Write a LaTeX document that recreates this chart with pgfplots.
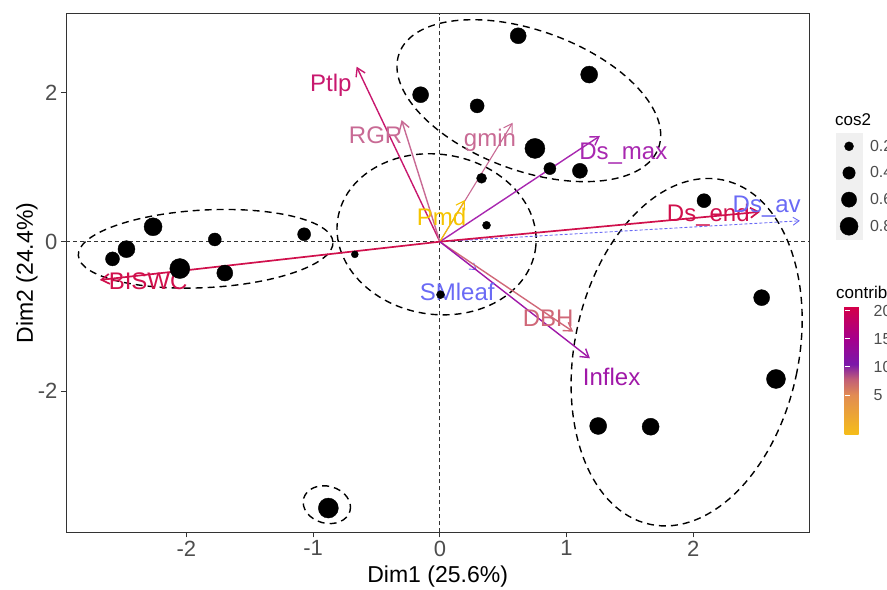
\documentclass[border=0pt]{standalone}
\usepackage{fontspec}
\setmainfont{Liberation Sans}
\usepackage{pgfplots}
\usepackage{pgfplotstable}
\pgfplotsset{compat=1.18}
\usetikzlibrary{arrows.meta}
\definecolor{gray30}{HTML}{4D4D4D}
\definecolor{gray20}{HTML}{333333}
\definecolor{cCrim}{HTML}{D0104C}
\definecolor{cPtlp}{HTML}{C8186E}
\definecolor{cPink}{HTML}{C86A94}
\definecolor{cPurp}{HTML}{A828B0}
\definecolor{cInfl}{HTML}{A018A8}
\definecolor{cGold}{HTML}{F5C400}
\definecolor{cDBH}{HTML}{D06878}
\definecolor{cBlue}{HTML}{6A6AF5}
\pgfplotsset{colormap={contribmap}{rgb255(0)=(246,190,24) rgb255(71)=(226,140,82) rgb255(100)=(192,92,120) rgb255(126)=(122,24,170) rgb255(171)=(165,0,140) rgb255(228)=(212,0,72)}}
\pgfplotstableread{
x y r
-2.263 0.20 9
-2.473 -0.10 8.5
-2.583 -0.23 7
-2.052 -0.36 10
-1.776 0.03 6.5
-1.697 -0.42 8
-1.071 0.10 6.5
-0.671 -0.17 3.5
0.618 2.76 8
1.178 2.24 8.5
-0.152 1.97 8
0.294 1.82 7
0.750 1.25 10
0.868 0.98 6
1.105 0.95 7.5
0.329 0.85 5
0.368 0.22 4
0.005 -0.71 4
2.084 0.55 7
2.539 -0.75 8
2.652 -1.84 9.5
1.249 -2.47 8.5
1.663 -2.48 8.5
-0.88 -3.57 10
}\indpoints
\tikzset{
  varrow/.style={line width=1.4bp, -{Straight Barb[length=8bp,width=10bp]}},
  suparrow/.style={line width=0.9bp, dash pattern=on 3bp off 2bp, -{Straight Barb[length=6bp,width=8bp]}},
  vlab/.style={font=\fontsize{24bp}{26bp}\selectfont, inner sep=0pt},
  ell/.style={black, line width=1.4bp, dash pattern=on 7bp off 5bp},
}
\pgfplotsset{myleg/.style={legend image code/.code={\fill[gray!12] (-12.85bp,-13.125bp) rectangle (12.85bp,13.125bp); \fill[black] (0bp,0bp) circle[radius=#1];}}}
\begin{document}
\begin{tikzpicture}[x=1bp,y=1bp]
\path[use as bounding box] (0,0) rectangle (887,590);
\begin{axis}[
  at={(66bp,57.7bp)}, anchor=south west,
  scale only axis, width=743.3bp, height=518.3bp,
  xmin=-2.95, xmax=2.915, ymin=-3.895, ymax=3.052,
  axis line style={gray20, line width=1bp},
  tick style={gray20, line width=0.8bp},
  tick align=outside, major tick length=5bp,
  xtick={-2,-1,0,1,2}, xticklabels={-2,-1,0,1,2},
  ytick={-2,0,2}, yticklabels={-2,0,2},
  xtick pos=lower, ytick pos=left,
  ticklabel style={font=\fontsize{22bp}{24bp}\selectfont, text=gray30},
  xlabel={Dim1 (25.6\%)}, ylabel={Dim2 (24.4\%)},
  label style={font=\fontsize{23bp}{25bp}\selectfont, text=black},
  xlabel style={at={(axis description cs:0.5,-0.0862)}, anchor=center},
  ylabel style={at={(axis description cs:-0.0525,0.5)}, anchor=center},
  colormap name=contribmap,
  point meta min=-2.1, point meta max=20.7,
  colorbar,
  colorbar style={
    at={(836bp,283.3bp)}, anchor=north west,
    scale only axis, width=25.7bp, height=128.3bp,
    ytick={5,10,15,20}, yticklabels={5,10,15,20},
    yticklabel style={font=\fontsize{16bp}{18bp}\selectfont, text=gray30},
    axis line style={draw=none},
    tick align=inside, ytick pos=both, yticklabel pos=right,
    major tick length=5bp,
    tick style={white, line width=1bp},
  },
  legend style={at={(1.0359,0.7704)}, anchor=north west, draw=none, fill=none,
    inner sep=0pt, outer sep=0pt, row sep=0pt, column sep=8bp,
    nodes={font=\fontsize{16bp}{18bp}\selectfont, text=gray30, inner sep=0pt, minimum height=26.25bp}},
  legend cell align=left,
]
% reference lines
\addplot[forget plot, gray20, line width=1bp, dash pattern=on 4bp off 3bp] coordinates {(-2.95,0) (2.915,0)};
\addplot[forget plot, gray20, line width=1bp, dash pattern=on 4bp off 3bp] coordinates {(0,-3.895) (0,3.052)};
% ellipses
\draw[ell, rotate around={3:(axis cs:-1.848,-0.095)}] (axis cs:-1.848,-0.095) ellipse [x radius=127.5bp, y radius=38.8bp];
\draw[ell, rotate around={-9:(axis cs:-0.026,0.099)}] (axis cs:-0.026,0.099) ellipse [x radius=100bp, y radius=80bp];
\draw[ell, rotate around={-20:(axis cs:0.702,1.890)}] (axis cs:0.702,1.890) ellipse [x radius=138bp, y radius=70bp];
\draw[ell, rotate around={-12:(axis cs:1.947,-1.481)}] (axis cs:1.947,-1.481) ellipse [x radius=112bp, y radius=176bp];
\draw[ell, rotate around={-15:(axis cs:-0.892,-3.525)}] (axis cs:-0.892,-3.525) ellipse [x radius=24bp, y radius=18.5bp];
% individuals
\addplot[forget plot, scatter, only marks, mark=*,
  scatter/use mapped color={draw=black, fill=black},
  visualization depends on={\thisrow{r} \as \rr},
  scatter/@pre marker code/.append style={/tikz/mark size=\rr bp}]
  table[x=x, y=y] {\indpoints};
% variables
\addplot[forget plot, suparrow, cBlue] coordinates {(0,0) (2.84,0.28)};
\addplot[forget plot, suparrow, cBlue] coordinates {(0,0) (0.29,-0.38)};
\addplot[forget plot, varrow, cPtlp] coordinates {(0,0) (-0.657,2.346)};
\addplot[forget plot, varrow, cPink] coordinates {(0,0) (-0.302,1.63)};
\addplot[forget plot, varrow, cPink, line width=1.1bp] coordinates {(0,0) (0.574,1.595)};
\addplot[forget plot, varrow, cPurp] coordinates {(0,0) (1.263,1.417)};
\addplot[forget plot, varrow, cGold, line width=1.1bp] coordinates {(0,0) (0.197,0.559)};
\addplot[forget plot, varrow, cCrim, line width=1.7bp] coordinates {(0,0) (2.526,0.40)};
\addplot[forget plot, varrow, cCrim, line width=1.7bp] coordinates {(0,0) (-2.683,-0.513)};
\addplot[forget plot, varrow, cDBH] coordinates {(0,0) (1.052,-1.206)};
\addplot[forget plot, varrow, cInfl] coordinates {(0,0) (1.184,-1.563)};
% labels
\node[vlab, text=cPtlp] at (axis cs:-0.860,2.091) {Ptlp};
\node[vlab, text=cPink] at (axis cs:-0.507,1.421) {RGR};
\node[vlab, text=cPink] at (axis cs:0.395,1.363) {gmin};
\node[vlab, text=cPurp] at (axis cs:1.447,1.185) {Ds\textunderscore max};
\node[vlab, text=cGold] at (axis cs:0.013,0.335) {Pmd};
\node[vlab, text=cCrim] at (axis cs:2.118,0.349) {Ds\textunderscore end};
\node[vlab, text=cBlue] at (axis cs:2.579,0.469) {Ds\textunderscore av};
\node[vlab, text=cBlue] at (axis cs:0.137,-0.670) {SMleaf};
\node[vlab, text=cDBH] at (axis cs:0.855,-1.027) {DBH};
\node[vlab, text=cInfl] at (axis cs:1.355,-1.810) {Inflex};
\node[vlab, text=cCrim] at (axis cs:-2.302,-0.536) {BISWC};
% cos2 legend
\addlegendimage{myleg=4.5bp}\addlegendentry{0.2}
\addlegendimage{myleg=6.2bp}\addlegendentry{0.4}
\addlegendimage{myleg=7.6bp}\addlegendentry{0.6}
\addlegendimage{myleg=9bp}\addlegendentry{0.8}
\end{axis}
\node[anchor=west, inner sep=0pt, font=\fontsize{17bp}{19bp}\selectfont] at (835,470) {cos2};
\node[anchor=west, inner sep=0pt, font=\fontsize{17bp}{19bp}\selectfont] at (836,298) {contrib};
\end{tikzpicture}
\end{document}
